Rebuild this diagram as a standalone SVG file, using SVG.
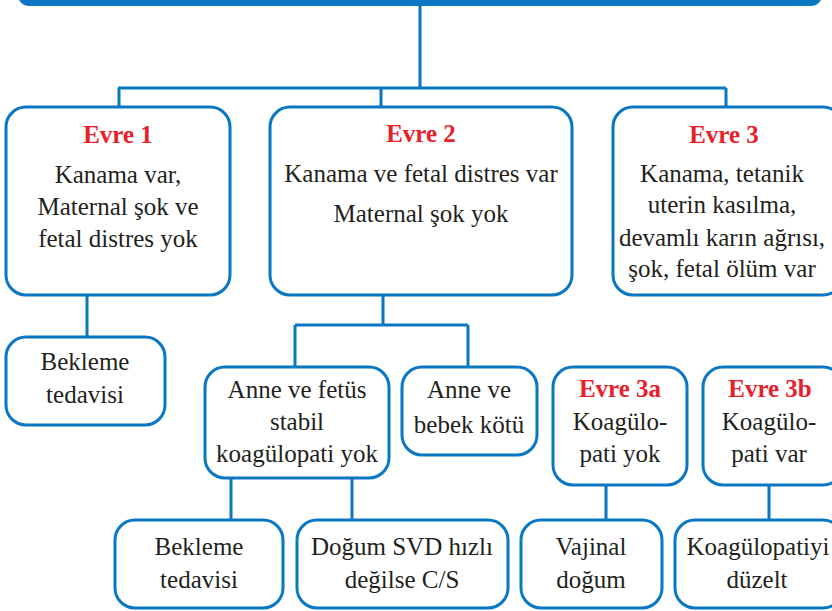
<svg xmlns="http://www.w3.org/2000/svg" width="832" height="611" viewBox="0 0 832 611">
<style>
.box{fill:#ffffff;stroke:#0a77c2;stroke-width:3}
.ln{fill:none;stroke:#0a77c2;stroke-width:3}
text{font-family:"Liberation Serif","Times New Roman",serif;font-size:25px;fill:#231f20;text-anchor:middle}
.t{font-weight:bold;fill:#e8202a}
</style>
<rect width="832" height="611" fill="#ffffff"/>
<g id="connectors">
<path class="ln" d="M420,5V88M118,88H726M119,88V107M381,88V107M726,88V107"/>
<path class="ln" d="M87,296V337"/>
<path class="ln" d="M383,296V325M295,325H468M295,325V367M468,325V367"/>
<path class="ln" d="M231,478V520M352,478V520"/>
<path class="ln" d="M606,485V520M769,485V520"/>
</g>
<g id="top"><rect x="18" y="-30" width="804" height="36" rx="11" fill="#0a77c2"/></g>
<g id="evre1">
<rect class="box" x="6" y="107" width="224" height="188" rx="20"/>
<text class="t" x="118" y="143">Evre 1</text>
<text x="118" y="183">Kanama var,</text>
<text x="118" y="215">Maternal şok ve</text>
<text x="118" y="247">fetal distres yok</text>
</g>
<g id="evre2">
<rect class="box" x="270" y="107" width="302" height="188" rx="20"/>
<text class="t" x="421" y="142">Evre 2</text>
<text x="421" y="182">Kanama ve fetal distres var</text>
<text x="421" y="222">Maternal şok yok</text>
</g>
<g id="evre3">
<rect class="box" x="613" y="107" width="230" height="188" rx="20"/>
<text class="t" x="724" y="143">Evre 3</text>
<text x="722" y="182">Kanama, tetanik</text>
<text x="722" y="213">uterin kasılma,</text>
<text x="722" y="246">devamlı karın ağrısı,</text>
<text x="722" y="277">şok, fetal ölüm var</text>
</g>
<g id="bekleme1">
<rect class="box" x="6" y="337" width="159" height="88" rx="20"/>
<text x="85" y="370">Bekleme</text>
<text x="85" y="403">tedavisi</text>
</g>
<g id="anneFetus">
<rect class="box" x="205" y="367" width="184" height="111" rx="20"/>
<text x="297" y="398">Anne ve fetüs</text>
<text x="297" y="430">stabil</text>
<text x="297" y="462">koagülopati yok</text>
</g>
<g id="anneBebek">
<rect class="box" x="402" y="367" width="135" height="88" rx="20"/>
<text x="469" y="398">Anne ve</text>
<text x="469" y="433">bebek kötü</text>
</g>
<g id="evre3a">
<rect class="box" x="553" y="367" width="134" height="118" rx="20"/>
<text class="t" x="620" y="397">Evre 3a</text>
<text x="620" y="430">Koagülo-</text>
<text x="620" y="462">pati yok</text>
</g>
<g id="evre3b">
<rect class="box" x="703" y="367" width="140" height="118" rx="20"/>
<text class="t" x="770" y="397">Evre 3b</text>
<text x="769" y="430">Koagülo-</text>
<text x="769" y="462">pati var</text>
</g>
<g id="bekleme2">
<rect class="box" x="115" y="520" width="168" height="88" rx="20"/>
<text x="199" y="555">Bekleme</text>
<text x="199" y="588">tedavisi</text>
</g>
<g id="dogum">
<rect class="box" x="297" y="520" width="211" height="88" rx="20"/>
<text x="402" y="555">Doğum SVD hızlı</text>
<text x="402" y="588">değilse C/S</text>
</g>
<g id="vajinal">
<rect class="box" x="521" y="520" width="141" height="88" rx="20"/>
<text x="591" y="555">Vajinal</text>
<text x="591" y="588">doğum</text>
</g>
<g id="koagulopatiyi">
<rect class="box" x="675" y="520" width="168" height="88" rx="20"/>
<text x="758" y="555">Koagülopatiyi</text>
<text x="757" y="588">düzelt</text>
</g>
</svg>
